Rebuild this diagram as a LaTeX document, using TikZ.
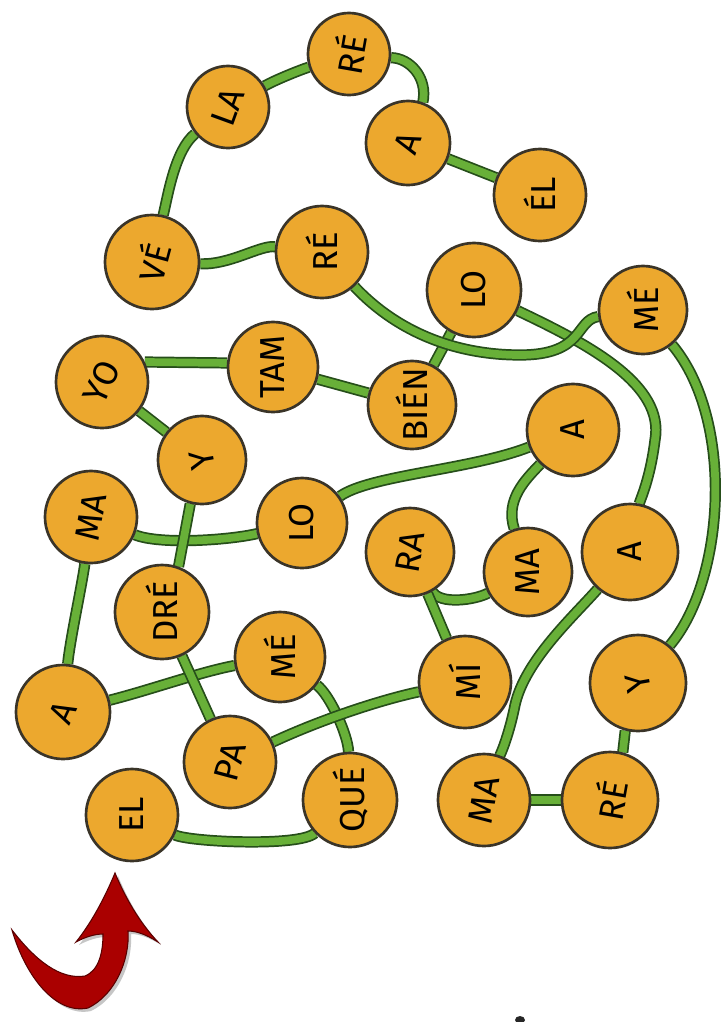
\documentclass[tikz,border=0pt]{standalone}
\usepackage{fontspec}
\usepackage{graphicx}
\setmainfont{Fira Sans}
\usetikzlibrary{backgrounds}
\definecolor{ballFill}{RGB}{236,168,46}
\definecolor{ballEdge}{RGB}{58,52,40}
\definecolor{linkGreen}{RGB}{104,176,56}
\definecolor{linkDark}{RGB}{38,78,26}
\definecolor{arrowRed}{RGB}{170,0,0}
\definecolor{arrowDark}{RGB}{90,0,0}
\newcommand{\lbl}[2]{\rotatebox{#1}{#2}}
\begin{document}
\begin{tikzpicture}[x=0.75pt,y=-0.75pt,
  ball/.style={circle,draw=ballEdge,line width=2pt,fill=ballFill,minimum size=#1*0.75pt,inner sep=0pt,font=\fontsize{26}{26}\selectfont},
  ball/.default=90,
  link/.style={draw=linkDark,line width=1.3pt,double=linkGreen,double distance=5.8pt}]
\useasboundingbox (0,0) rectangle (724,1022);

% nodes
\node[ball=82] (re1) at (349,54) {\lbl{80}{RÉ}};
\node[ball=82] (la) at (228,107) {\lbl{70}{LA}};
\node[ball=84] (a1) at (408,143) {\lbl{70}{A}};
\node[ball=92] (el2) at (540,195) {\lbl{90}{ÉL}};
\node[ball=94] (ve) at (152,262) {\lbl{75}{VÉ}};
\node[ball=92] (re2) at (322,252) {\lbl{90}{RÉ}};
\node[ball=94] (lo1) at (474,290) {\lbl{90}{LO}};
\node[ball=88] (me1) at (643,310) {\lbl{90}{MÉ}};
\node[ball=88] (bien) at (412,405) {\lbl{90}{BIÉN}};
\node[ball=90] (tam) at (273,367) {\lbl{90}{TAM}};
\node[ball=92] (yo) at (102,382) {\lbl{65}{YO}};
\node[ball=88] (y1) at (202,460) {\lbl{100}{Y}};
\node[ball=92] (ma1) at (91,517) {\lbl{80}{MA}};
\node[ball=90] (lo2) at (302,523) {\lbl{90}{LO}};
\node[ball=92] (a2) at (573,430) {\lbl{90}{A}};
\node[ball=88] (ra) at (410,552) {\lbl{80}{RA}};
\node[ball=88] (ma2) at (528,572) {\lbl{90}{MA}};
\node[ball=96] (a3) at (630,552) {\lbl{90}{A}};
\node[ball=94] (dre) at (162,612) {\lbl{90}{DRÉ}};
\node[ball=90] (me2) at (280,657) {\lbl{90}{MÉ}};
\node[ball=94] (a4) at (63,712) {\lbl{65}{A}};
\node[ball=92] (pa) at (230,762) {\lbl{75}{PA}};
\node[ball=94] (que) at (350,800) {\lbl{90}{QUÉ}};
\node[ball=92] (el1) at (132,815) {\lbl{90}{EL}};
\node[ball=92] (mi) at (465,682) {\lbl{90}{MÍ}};
\node[ball=96] (y2) at (638,683) {\lbl{100}{Y}};
\node[ball=92] (ma3) at (484,800) {\lbl{80}{MA}};
\node[ball=96] (re3) at (610,800) {\lbl{80}{RÉ}};

% connectors
\begin{pgfonlayer}{background}
\fill[white] (0,0) rectangle (724,1022);
\draw[link] (el1) .. controls (190,842) and (300,847) .. (que);
\draw[link] (me2) .. controls (330,695) and (348,735) .. (que);
\draw[link] (a4) .. controls (150,690) and (200,672) .. (me2);
\draw[link] (a4) .. controls (70,640) and (82,585) .. (ma1);
\draw[link] (ma1) .. controls (160,545) and (230,540) .. (lo2);
\draw[link] (lo2) .. controls (370,475) and (470,470) .. (a2);
\draw[link] (a2) .. controls (525,480) and (505,500) .. (ma2);
\draw[link] (ra) .. controls (440,605) and (475,600) .. (ma2);
\draw[link] (ra) -- (mi);
\draw[link] (mi) .. controls (380,700) and (320,720) .. (pa);
\draw[link] (pa) -- (dre);
\draw[link] (y1.255) -- (dre.70);
\draw[link] (y1) -- (yo);
\draw[link] (yo.25) -- (tam.175);
\draw[link] (tam) -- (bien);
\draw[link] (bien) -- (lo1);
\draw[link] (lo1) .. controls (590,345) and (665,385) .. (655,440) .. controls (650,480) and (640,500) .. (a3);
\draw[link] (a3) .. controls (575,615) and (525,660) .. (515,705) .. controls (508,740) and (498,760) .. (ma3);
\draw[link] (ma3) -- (re3);
\draw[link] (re3.75) -- (y2.255);
\draw[link] (y2) .. controls (725,580) and (735,420) .. (me1);
\draw[link] (me1) .. controls (575,320) and (585,355) .. (520,355) .. controls (460,355) and (400,335) .. (re2);
\draw[link] (re2) .. controls (260,245) and (230,265) .. (ve);
\draw[link] (ve) .. controls (168,195) and (175,150) .. (la);
\draw[link] (la) .. controls (275,80) and (300,70) .. (re1);
\draw[link] (re1.-5) .. controls (410,58) and (428,78) .. (a1.70);
\draw[link] (a1) -- (el2);
\end{pgfonlayer}

% start arrow
\fill[gray!45] (118,876) .. controls (128,900) and (142,925) .. (161,945)
  .. controls (150,938) and (140,934) .. (131,934)
  .. controls (133,963) and (118,998) .. (91,1011)
  .. controls (58,1018) and (28,978) .. (15,933)
  .. controls (38,963) and (63,983) .. (88,979)
  .. controls (103,973) and (106,953) .. (106,937)
  .. controls (98,937) and (88,940) .. (79,945)
  .. controls (95,925) and (108,900) .. (118,876) -- cycle;
\draw[fill=arrowRed,draw=arrowDark,line width=0.8pt] (115,873) .. controls (125,897) and (139,922) .. (158,942)
  .. controls (147,935) and (137,931) .. (128,931)
  .. controls (130,960) and (115,995) .. (88,1008)
  .. controls (55,1015) and (25,975) .. (12,930)
  .. controls (35,960) and (60,980) .. (85,976)
  .. controls (100,970) and (103,950) .. (103,934)
  .. controls (95,934) and (85,937) .. (76,942)
  .. controls (92,922) and (105,897) .. (115,873) -- cycle;

% small mark at bottom edge
\fill[black!85] (520,1020) ellipse [x radius=5, y radius=4];
\end{tikzpicture}
\end{document}
